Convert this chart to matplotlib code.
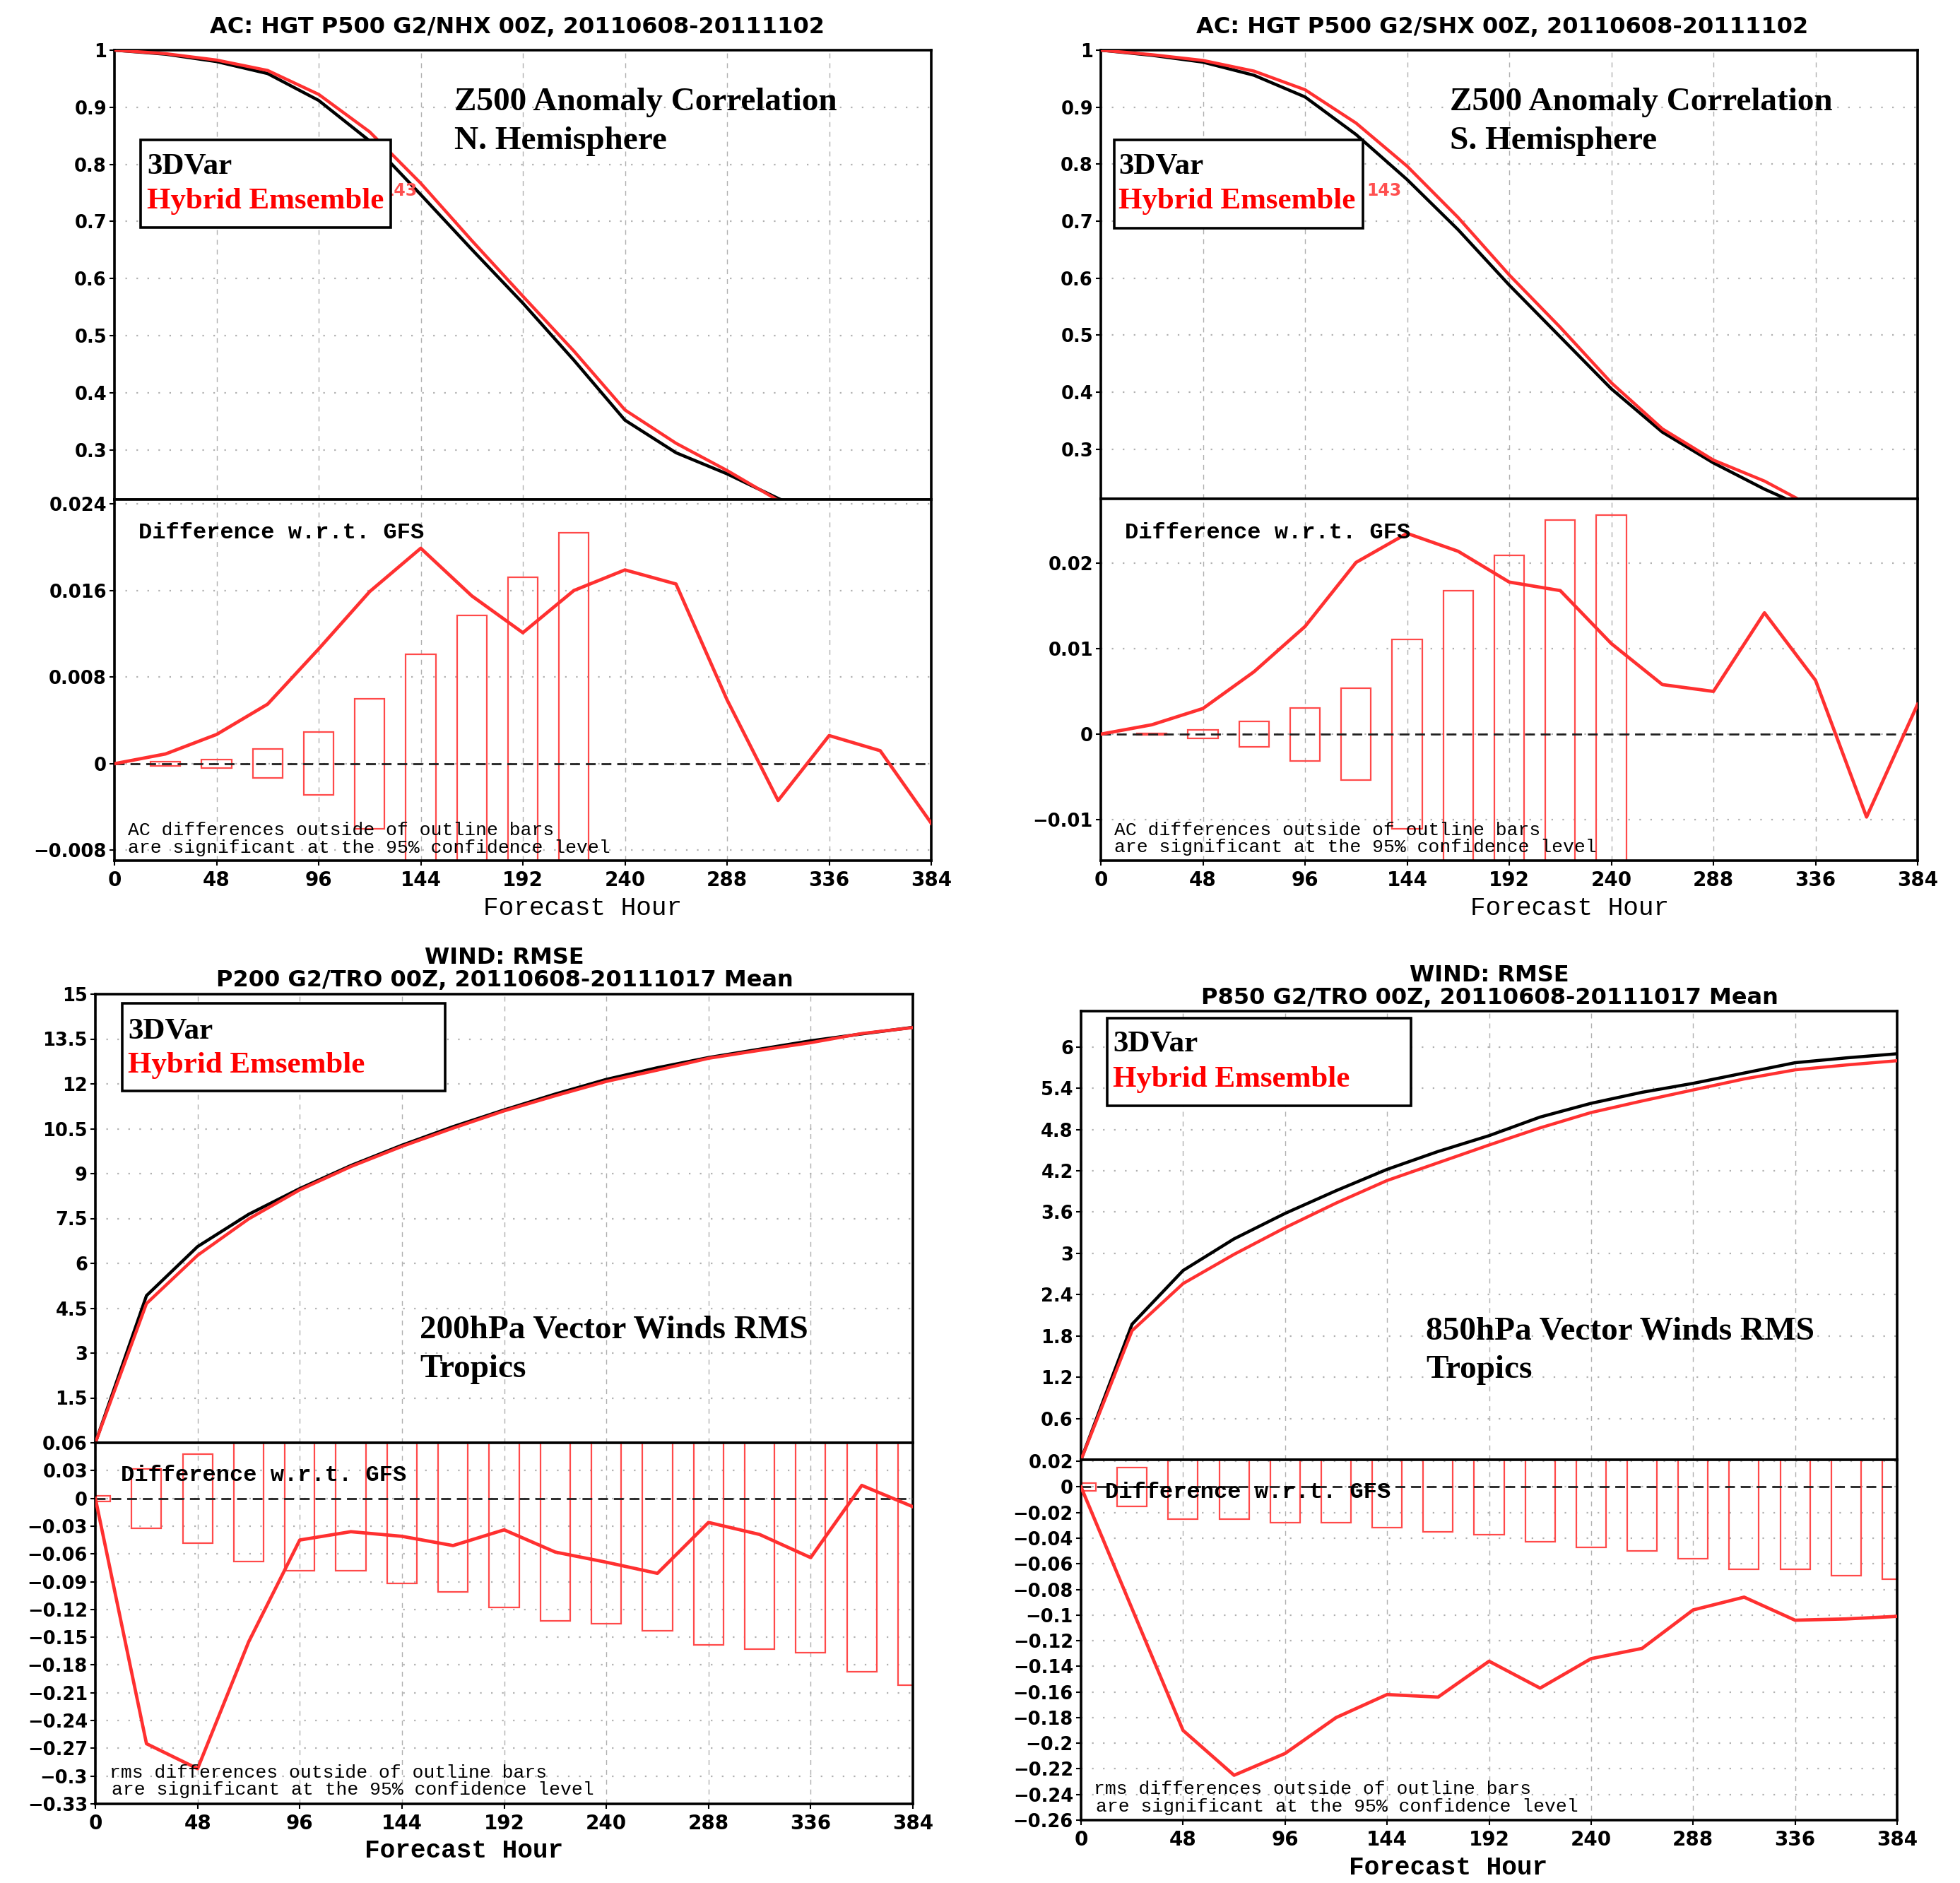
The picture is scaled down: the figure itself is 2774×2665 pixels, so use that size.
import numpy as np
import matplotlib
matplotlib.use('Agg')
import matplotlib.pyplot as plt
from matplotlib.patches import Rectangle

# forecast hours (every 24h)
hours = np.arange(0, 385, 24)

# Z500 anomaly correlation, N. Hemisphere
nh_3dvar = [1.0, 0.993, 0.980, 0.959, 0.912, 0.841, 0.747, 0.651, 0.557,
            0.457, 0.352, 0.295, 0.258, 0.215, 0.175, 0.145, 0.120]
nh_hybrid = [1.0, 0.9939, 0.9827, 0.9645, 0.9226, 0.8569, 0.7669, 0.6665, 0.5691,
             0.4730, 0.3699, 0.3116, 0.2639, 0.2116, 0.1776, 0.1462, 0.1145]
nh_diff = [0, 0.0009, 0.0027, 0.0055, 0.0106, 0.0159, 0.0199, 0.0155, 0.0121,
           0.0160, 0.0179, 0.0166, 0.0059, -0.0034, 0.0026, 0.0012, -0.0055]
nh_bar_hours = [24, 48, 72, 96, 120, 144, 168, 192, 216]
nh_bars = [0.0002, 0.0004, 0.00134, 0.0029, 0.0060, 0.0101, 0.0137, 0.0172, 0.0213]

# Z500 anomaly correlation, S. Hemisphere
sh_3dvar = [1.0, 0.991, 0.979, 0.956, 0.918, 0.852, 0.773, 0.685, 0.588,
            0.497, 0.406, 0.330, 0.276, 0.230, 0.190, 0.160, 0.130]
sh_hybrid = [1.0, 0.9921, 0.9820, 0.9633, 0.9306, 0.8721, 0.7965, 0.7064, 0.6058,
             0.5138, 0.4166, 0.3358, 0.2810, 0.2442, 0.1963, 0.1503, 0.1335]
sh_diff = [0, 0.0011, 0.0030, 0.0073, 0.0126, 0.0201, 0.0235, 0.0214, 0.0178,
           0.0168, 0.0106, 0.0058, 0.0050, 0.0142, 0.0063, -0.0097, 0.0035]
sh_bar_hours = [24, 48, 72, 96, 120, 144, 168, 192, 216, 240]
sh_bars = [0.0001, 0.0005, 0.0015, 0.0031, 0.0054, 0.0111, 0.0168, 0.0209, 0.0251, 0.0256]

# 200hPa vector wind RMSE, tropics
p200_3dvar = [0, 4.92, 6.56, 7.64, 8.50, 9.27, 9.95, 10.57, 11.13,
              11.66, 12.15, 12.54, 12.88, 13.16, 13.44, 13.67, 13.89]
p200_hybrid = [0, 4.655, 6.268, 7.485, 8.455, 9.234, 9.909, 10.519, 11.096,
               11.602, 12.081, 12.459, 12.854, 13.121, 13.376, 13.684, 13.881]
p200_diff = [0, -0.265, -0.292, -0.155, -0.045, -0.036, -0.041, -0.051, -0.034,
             -0.058, -0.069, -0.081, -0.026, -0.039, -0.064, 0.014, -0.009]
p200_bars = [0.003, 0.032, 0.048, 0.068, 0.078, 0.078, 0.092, 0.101, 0.118,
             0.132, 0.135, 0.143, 0.158, 0.163, 0.167, 0.187, 0.202]

# 850hPa vector wind RMSE, tropics
p850_3dvar = [0, 1.97, 2.75, 3.21, 3.58, 3.91, 4.22, 4.48, 4.71,
              4.98, 5.18, 5.34, 5.47, 5.62, 5.77, 5.84, 5.90]
p850_hybrid = [0, 1.875, 2.560, 2.985, 3.372, 3.730, 4.058, 4.316, 4.574,
               4.823, 5.046, 5.214, 5.374, 5.534, 5.666, 5.737, 5.799]
p850_diff = [0, -0.095, -0.190, -0.225, -0.208, -0.180, -0.162, -0.164, -0.136,
             -0.157, -0.134, -0.126, -0.096, -0.086, -0.104, -0.103, -0.101]
p850_bars = [0.003, 0.015, 0.025, 0.025, 0.028, 0.028, 0.032, 0.035, 0.037,
             0.043, 0.047, 0.050, 0.056, 0.064, 0.064, 0.069, 0.072]

# tick values / labels
x_ticks = [0, 48, 96, 144, 192, 240, 288, 336, 384]
ac_ticks = [0.3, 0.4, 0.5, 0.6, 0.7, 0.8, 0.9, 1.0]
ac_labels = ['0.3', '0.4', '0.5', '0.6', '0.7', '0.8', '0.9', '1']
nh_dticks = [-0.008, 0, 0.008, 0.016, 0.024]
nh_dlabels = ['\u22120.008', '0', '0.008', '0.016', '0.024']
sh_dticks = [-0.01, 0, 0.01, 0.02]
sh_dlabels = ['\u22120.01', '0', '0.01', '0.02']
p200_ticks = [1.5, 3, 4.5, 6, 7.5, 9, 10.5, 12, 13.5, 15]
p200_labels = ['1.5', '3', '4.5', '6', '7.5', '9', '10.5', '12', '13.5', '15']
p200_dticks = [-0.33, -0.30, -0.27, -0.24, -0.21, -0.18, -0.15, -0.12, -0.09,
               -0.06, -0.03, 0, 0.03, 0.06]
p200_dlabels = ['\u22120.33', '\u22120.3', '\u22120.27', '\u22120.24', '\u22120.21',
                '\u22120.18', '\u22120.15', '\u22120.12', '\u22120.09', '\u22120.06',
                '\u22120.03', '0', '0.03', '0.06']
p850_ticks = [0.6, 1.2, 1.8, 2.4, 3.0, 3.6, 4.2, 4.8, 5.4, 6.0]
p850_labels = ['0.6', '1.2', '1.8', '2.4', '3', '3.6', '4.2', '4.8', '5.4', '6']
p850_dticks = [-0.26, -0.24, -0.22, -0.20, -0.18, -0.16, -0.14, -0.12, -0.10,
               -0.08, -0.06, -0.04, -0.02, 0, 0.02]
p850_dlabels = ['\u22120.26', '\u22120.24', '\u22120.22', '\u22120.2', '\u22120.18',
                '\u22120.16', '\u22120.14', '\u22120.12', '\u22120.1', '\u22120.08',
                '\u22120.06', '\u22120.04', '\u22120.02', '0', '0.02']

RED = '#ff3030'
BAR_RED = '#ff4a4a'
GRID = '#b0b0b0'

W, H = 2774, 2665
fig = plt.figure(figsize=(W / 100, H / 100), dpi=100)


def fx(x):
    return x / W


def fy(y):
    return 1 - y / H


def style_axes(ax, yticks, ylabels, show_x):
    ax.set_xlim(0, 384)
    ax.set_xticks(x_ticks)
    ax.set_yticks(yticks)
    ax.set_yticklabels(ylabels, fontfamily='DejaVu Sans', fontweight='bold', fontsize=18.5)
    if show_x:
        ax.set_xticklabels([str(t) for t in x_ticks], fontfamily='DejaVu Sans',
                           fontweight='bold', fontsize=20)
    else:
        ax.set_xticklabels([])
    for s in ax.spines.values():
        s.set_linewidth(2.6)
        s.set_color('black')
    ax.tick_params(direction='out', length=5, width=1.5, pad=3)
    ax.tick_params(axis='x', pad=5, top=False)
    for t in yticks:
        ax.axhline(t, color=GRID, lw=1.6, ls=(0, (1, 6)), zorder=0)
    for t in x_ticks:
        ax.axvline(t, color=GRID, lw=1.0, ls=(0, (5, 5)), zorder=0)


def panel(l, t, d, b, r, ylim_up, ylim_lo, black, red, diff, bar_h, bars,
          up_ticks, up_labels, lo_ticks, lo_labels):
    ax1 = fig.add_axes([fx(l), fy(d), fx(r) - fx(l), fy(t) - fy(d)])
    ax2 = fig.add_axes([fx(l), fy(b), fx(r) - fx(l), fy(d) - fy(b)])
    ax1.plot(hours, black, color='black', lw=3.2, zorder=3)
    ax1.plot(hours, red, color=RED, lw=3.2, zorder=4)
    ax1.set_ylim(*ylim_up)
    style_axes(ax1, up_ticks, up_labels, False)
    ax2.bar(bar_h, [2 * v for v in bars], bottom=[-v for v in bars], width=14,
            fill=False, edgecolor=BAR_RED, linewidth=1.6, zorder=2)
    ax2.axhline(0, color='#202020', lw=2, ls=(0, (5, 3)), zorder=3)
    ax2.plot(hours, diff, color=RED, lw=3.4, zorder=4)
    ax2.set_ylim(*ylim_lo)
    style_axes(ax2, lo_ticks, lo_labels, True)
    return ax1, ax2


# ---- top left: NH Z500 AC
a1, a2 = panel(162, 71, 707, 1218, 1318, (0.213, 1.0), (-0.00895, 0.0244),
               nh_3dvar, nh_hybrid, nh_diff, nh_bar_hours, nh_bars,
               ac_ticks, ac_labels, nh_dticks, nh_dlabels)
a1.text(126, 0.745, '143', color='#ff5050', fontsize=17, fontweight='bold', zorder=5)

# ---- top right: SH Z500 AC
b1, b2 = panel(1558, 71, 706, 1218, 2714, (0.213, 1.0), (-0.0148, 0.02754),
               sh_3dvar, sh_hybrid, sh_diff, sh_bar_hours, sh_bars,
               ac_ticks, ac_labels, sh_dticks, sh_dlabels)
b1.text(125, 0.745, '143', color='#ff5050', fontsize=17, fontweight='bold', zorder=5)

# ---- bottom left: 200hPa winds
c1, c2 = panel(135, 1407, 2042, 2553, 1292, (0, 15), (-0.33, 0.06),
               p200_3dvar, p200_hybrid, p200_diff, hours, p200_bars,
               p200_ticks, p200_labels, p200_dticks, p200_dlabels)

# ---- bottom right: 850hPa winds
d1, d2 = panel(1530, 1431, 2066, 2576, 2685, (0, 6.52), (-0.26, 0.0212),
               p850_3dvar, p850_hybrid, p850_diff, hours, p850_bars,
               p850_ticks, p850_labels, p850_dticks, p850_dlabels)

# titles
tfont = dict(fontfamily='DejaVu Sans', fontweight='bold', fontsize=23, ha='center', va='baseline')
fig.text(fx(732), fy(47), 'AC: HGT P500 G2/NHX 00Z, 20110608-20111102', **tfont)
fig.text(fx(2126), fy(47), 'AC: HGT P500 G2/SHX 00Z, 20110608-20111102', **tfont)
fig.text(fx(714), fy(1364), 'WIND: RMSE', **tfont)
fig.text(fx(714), fy(1396), 'P200 G2/TRO 00Z, 20110608-20111017 Mean', **tfont)
fig.text(fx(2108), fy(1389), 'WIND: RMSE', **tfont)
fig.text(fx(2108), fy(1421), 'P850 G2/TRO 00Z, 20110608-20111017 Mean', **tfont)

# x axis titles
fig.text(fx(825), fy(1295), 'Forecast Hour', fontfamily='Liberation Mono', fontsize=26, ha='center', va='baseline')
fig.text(fx(2222), fy(1295), 'Forecast Hour', fontfamily='Liberation Mono', fontsize=26, ha='center', va='baseline')
fig.text(fx(657), fy(2629), 'Forecast Hour', fontfamily='Liberation Mono', fontweight='bold', fontsize=26, ha='center', va='baseline')
fig.text(fx(2050), fy(2653), 'Forecast Hour', fontfamily='Liberation Mono', fontweight='bold', fontsize=26, ha='center', va='baseline')

# "Difference" labels and significance notes
dfont = dict(fontfamily='Liberation Mono', fontweight='bold', fontsize=23, va='baseline', zorder=6)
fig.text(fx(196), fy(762), 'Difference w.r.t. GFS', **dfont)
fig.text(fx(1592), fy(762), 'Difference w.r.t. GFS', **dfont)
fig.text(fx(171), fy(2096), 'Difference w.r.t. GFS', **dfont)
fig.text(fx(1564), fy(2120), 'Difference w.r.t. GFS', **dfont)

nfont = dict(fontfamily='Liberation Mono', fontsize=19, va='baseline')
fig.text(fx(181), fy(1182), 'AC differences outside of outline bars', **nfont)
fig.text(fx(181), fy(1207), 'are significant at the 95% confidence level', **nfont)
fig.text(fx(1577), fy(1182), 'AC differences outside of outline bars', **nfont)
fig.text(fx(1577), fy(1206), 'are significant at the 95% confidence level', **nfont)
fig.text(fx(155), fy(2516), 'rms differences outside of outline bars', **nfont)
fig.text(fx(158), fy(2540), 'are significant at the 95% confidence level', **nfont)
fig.text(fx(1548), fy(2539), 'rms differences outside of outline bars', **nfont)
fig.text(fx(1551), fy(2564), 'are significant at the 95% confidence level', **nfont)

# big annotations
afont = dict(fontfamily='Liberation Serif', fontweight='bold', fontsize=34, va='baseline')
fig.text(fx(643), fy(156), 'Z500 Anomaly Correlation', **afont)
fig.text(fx(643), fy(211), 'N. Hemisphere', **afont)
fig.text(fx(2052), fy(156), 'Z500 Anomaly Correlation', **afont)
fig.text(fx(2052), fy(211), 'S. Hemisphere', **afont)
fig.text(fx(594), fy(1894), '200hPa Vector Winds RMS', **afont)
fig.text(fx(594), fy(1949), 'Tropics', **afont)
fig.text(fx(2018), fy(1896), '850hPa Vector Winds RMS', **afont)
fig.text(fx(2018), fy(1950), 'Tropics', **afont)

# legend boxes
lfont = dict(fontfamily='Liberation Serif', fontweight='bold', fontsize=31, va='baseline', zorder=6)
boxes = [(199, 198, 553, 322, 208, 246, 295),
         (1577, 198, 1929, 323, 1583, 246, 295),
         (173, 1420, 630, 1544, 181, 1469, 1518),
         (1567, 1441, 1997, 1565, 1575, 1488, 1538)]
for x0, y0, x1, y1, tx, ty1, ty2 in boxes:
    fig.add_artist(Rectangle((fx(x0), fy(y1)), fx(x1) - fx(x0), fy(y0) - fy(y1),
                             transform=fig.transFigure, facecolor='white',
                             edgecolor='black', lw=2.6, zorder=5))
    fig.text(fx(tx), fy(ty1), '3DVar', color='black', **lfont)
    fig.text(fx(tx), fy(ty2), 'Hybrid Emsemble', color='#ff0000', **lfont)

fig.savefig('out.png', dpi=100, facecolor='white')
